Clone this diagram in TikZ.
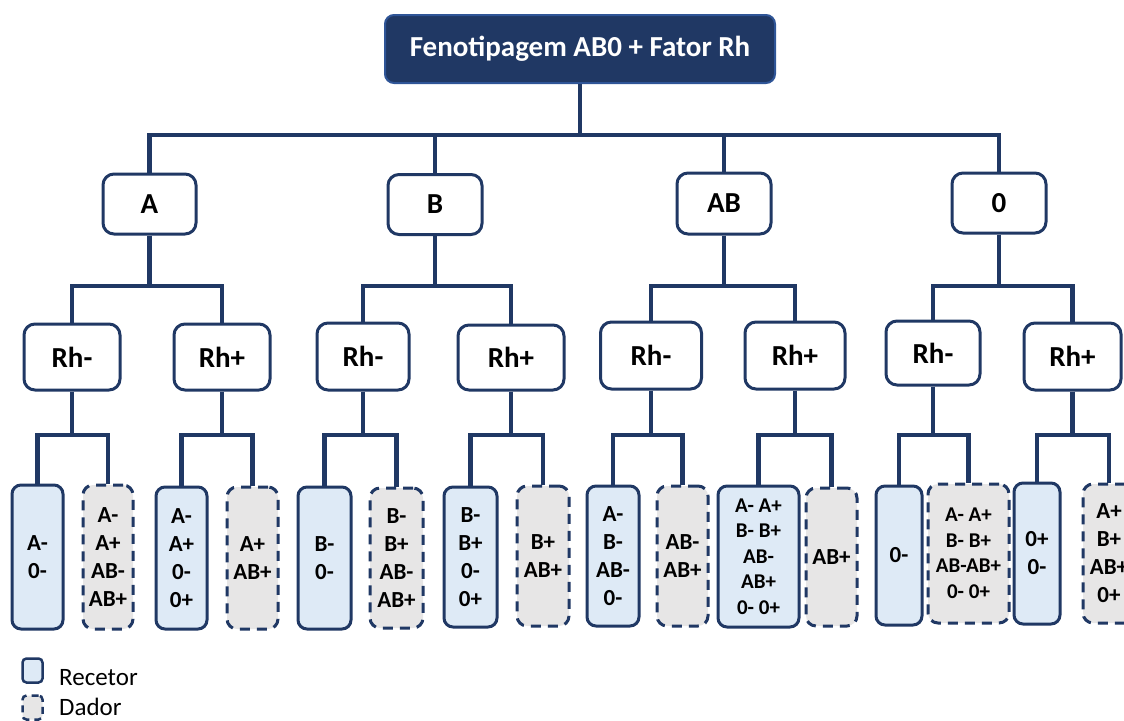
\documentclass[tikz,border=0pt]{standalone}
\usepackage{fontspec}
\setmainfont{Carlito}
\definecolor{navy}{HTML}{203864}
\definecolor{navyedge}{HTML}{2F5597}
\definecolor{recblue}{HTML}{DEEAF6}
\definecolor{dongray}{HTML}{E7E6E6}
\begin{document}
\begin{tikzpicture}[x=1pt,y=-1pt,
  conn/.style={draw=navy,line width=4.5pt},
  header/.style={draw=navyedge,fill=navy,line width=2pt,rounded corners=9pt,
    text=white,font=\bfseries\fontsize{29}{35}\selectfont,inner sep=0pt},
  level/.style={draw=navy,fill=white,line width=3pt,rounded corners=11pt,
    font=\bfseries\fontsize{29}{35}\selectfont,inner sep=0pt},
  recbox/.style={draw=navy,fill=recblue,line width=3pt,rounded corners=9pt,
    font=\bfseries\fontsize{23}{28}\selectfont,align=center,inner sep=0pt},
  donbox/.style={draw=navy,fill=dongray,line width=3pt,rounded corners=10pt,
    dash pattern=on 10pt off 7pt,
    font=\bfseries\fontsize{23}{28}\selectfont,align=center,inner sep=0pt},
  small/.style={font=\bfseries\fontsize{21}{25.5}\selectfont},
  legtext/.style={font=\fontsize{25}{30}\selectfont,anchor=base west,inner sep=0pt}]
\useasboundingbox (0,0) rectangle (1124,720);
\clip (0,0) rectangle (1124,720);

% junction heights of the tree
\coordinate (j0) at (0,135);
\coordinate (j1) at (0,286);
\coordinate (j2) at (0,435);

% root
\node[header,minimum width=390pt,minimum height=68pt] (top) at (580,49) {Fenotipagem AB0 + Fator Rh};

% blood groups
\node[level,minimum width=93pt,minimum height=60pt] (gA)  at (149.5,204) {A};
\node[level,minimum width=94pt,minimum height=60pt] (gB)  at (435,204.5) {B};
\node[level,minimum width=94pt,minimum height=61pt] (gAB) at (724,203.5) {AB};
\node[level,minimum width=94pt,minimum height=60pt] (gO)  at (999,203) {0};

% Rh factor
\node[level,minimum width=96pt,minimum height=66pt]  (aM)  at (72,357) {Rh-};
\node[level,minimum width=96pt,minimum height=66pt]  (aP)  at (222,357) {Rh+};
\node[level,minimum width=92pt,minimum height=67pt]  (bM)  at (363,356.5) {Rh-};
\node[level,minimum width=106pt,minimum height=65pt] (bP)  at (511,357.5) {Rh+};
\node[level,minimum width=101pt,minimum height=67pt] (abM) at (651,355.5) {Rh-};
\node[level,minimum width=100pt,minimum height=67pt] (abP) at (795,355.5) {Rh+};
\node[level,minimum width=94pt,minimum height=64pt]  (oM)  at (933,353) {Rh-};
\node[level,minimum width=97pt,minimum height=67pt]  (oP)  at (1072.5,356.5) {Rh+};

% recipients and donors
\node[recbox,minimum width=51pt,minimum height=144pt] (a1) at (37.5,557) {A-\\0-};
\node[donbox,minimum width=50pt,minimum height=144pt] (a2) at (108,557) {A-\\A+\\AB-\\AB+};
\node[recbox,minimum width=51pt,minimum height=142pt] (a3) at (181.5,558) {A-\\A+\\0-\\0+};
\node[donbox,minimum width=51pt,minimum height=142pt] (a4) at (252.5,558) {A+\\AB+};

\node[recbox,minimum width=53pt,minimum height=142pt] (b1) at (324.5,558) {B-\\0-};
\node[donbox,minimum width=53pt,minimum height=140pt] (b2) at (396.5,558) {B-\\B+\\AB-\\AB+};
\node[recbox,minimum width=53pt,minimum height=140pt] (b3) at (470.5,557) {B-\\B+\\0-\\0+};
\node[donbox,minimum width=52pt,minimum height=140pt] (b4) at (543,556) {B+\\AB+};

\node[recbox,minimum width=52pt,minimum height=140pt] (ab1) at (613,556) {A-\\B-\\AB-\\0-};
\node[donbox,minimum width=51pt,minimum height=140pt] (ab2) at (682.5,556) {AB-\\AB+};
\node[recbox,small,minimum width=81pt,minimum height=141pt] (ab3) at (758.5,556.5) {A- A+\\B- B+\\AB-\\AB+\\0- 0+};
\node[donbox,minimum width=51pt,minimum height=138pt] (ab4) at (831.5,557) {AB+};

\node[recbox,minimum width=46pt,minimum height=139pt] (o1) at (899,555.5) {0-};
\node[donbox,small,minimum width=81pt,minimum height=139pt] (o2) at (968.5,553.5) {A- A+\\B- B+\\AB-AB+\\0- 0+};
\node[recbox,minimum width=46pt,minimum height=141pt] (o3) at (1037,553.5) {0+\\0-};
\node[donbox,minimum width=52pt,minimum height=139pt] (o4) at (1109,553.5) {A+\\B+\\AB+\\0+};

% connectors
\foreach \p/\c/\j in {top/gA/j0,top/gB/j0,top/gAB/j0,top/gO/j0,
    gA/aM/j1,gA/aP/j1,gB/bM/j1,gB/bP/j1,gAB/abM/j1,gAB/abP/j1,gO/oM/j1,gO/oP/j1,
    aM/a1/j2,aM/a2/j2,aP/a3/j2,aP/a4/j2,bM/b1/j2,bM/b2/j2,bP/b3/j2,bP/b4/j2,
    abM/ab1/j2,abM/ab2/j2,abP/ab3/j2,abP/ab4/j2,oM/o1/j2,oM/o2/j2,oP/o3/j2,oP/o4/j2}
  \draw[conn] (\p.south) -- (\p.south |- \j) -| (\c.north);

% legend
\node[recbox,line width=2.5pt,rounded corners=4pt,minimum width=20pt,minimum height=24pt] (lr) at (32.5,670.5) {};
\node[donbox,line width=2.5pt,rounded corners=4pt,dash pattern=on 7pt off 5pt,minimum width=20pt,minimum height=24pt] (ld) at (32.5,707.5) {};
\node[legtext] (lrt) at (59,685) {Recetor};
\node[legtext] (ldt) at (59,715) {Dador};
\end{tikzpicture}
\end{document}
